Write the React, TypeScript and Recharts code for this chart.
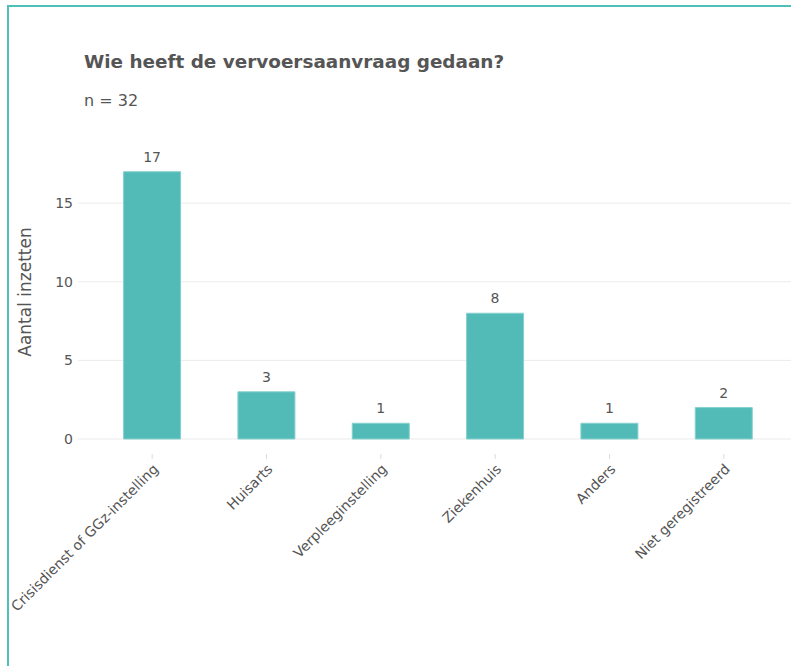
import React from 'react';
import { BarChart, Bar, XAxis, YAxis, CartesianGrid, LabelList } from 'recharts';

const categories = [
  'Crisisdienst of GGz-instelling',
  'Huisarts',
  'Verpleeginstelling',
  'Ziekenhuis',
  'Anders',
  'Niet geregistreerd',
];
const counts = [17, 3, 1, 8, 1, 2];
const yTicks = [0, 5, 10, 15];

const teal = '#52bbb8';
const font = '"DejaVu Sans", Verdana, sans-serif';

const data = categories.map((name, i) => ({ name, value: counts[i] }));

const XTick = (props: any) => {
  const { x, y, payload } = props;
  return (
    <g>
      <line x1={x} x2={x} y1={y + 15} y2={y + 20} stroke="#dddddd" />
      <text
        x={x + 7}
        y={y + 31}
        textAnchor="end"
        transform={`rotate(-45, ${x + 7}, ${y + 31})`}
        fill="#555"
        fontSize={14}
        fontFamily={font}
      >
        {payload.value}
      </text>
    </g>
  );
};

const YTitle = () => (
  <text
    x={25}
    y={292}
    transform="rotate(-90, 25, 292)"
    textAnchor="middle"
    dominantBaseline="central"
    fill="#555"
    fontSize={17}
    fontFamily={font}
  >
    Aantal inzetten
  </text>
);

export default function App() {
  return (
    <div style={{ position: 'absolute', left: 0, top: 0, width: 791, height: 666, overflow: 'hidden', background: '#fff' }}>
      <div
        style={{
          position: 'absolute',
          left: 7,
          top: 5,
          width: 1000,
          height: 1000,
          border: '2px solid #4fbfba',
        }}
      />
      <svg style={{ position: 'absolute', left: 0, top: 0 }} width={791} height={130}>
        <text x={84} y={68} fontSize={18.4} fontWeight="bold" fill="#555" fontFamily={font}>
          Wie heeft de vervoersaanvraag gedaan?
        </text>
        <text x={84} y={106} fontSize={16} fill="#555" fontFamily={font}>
          n = 32
        </text>
      </svg>
      <div style={{ position: 'absolute', left: 0, top: 0 }}>
        <BarChart
          width={800}
          height={666}
          data={data}
          margin={{ top: 156, right: 2, bottom: 0, left: 0 }}
          barCategoryGap="25%"
        >
          <CartesianGrid vertical={false} stroke="#ebebeb" horizontalValues={yTicks} />
          <XAxis
            dataKey="name"
            interval={0}
            height={227}
            axisLine={false}
            tickLine={false}
            tickSize={0}
            tickMargin={0}
            padding={{ left: 17, right: 17 }}
            tick={<XTick />}
          />
          <YAxis
            width={78}
            domain={[0, 18]}
            ticks={yTicks}
            axisLine={false}
            tickLine={false}
            tickSize={0}
            tickMargin={5}
            tick={{ fill: '#555', fontSize: 14, fontFamily: font }}
            label={{ content: <YTitle /> }}
          />
          <Bar dataKey="value" fill={teal} stroke="#86d0cd" strokeWidth={1} isAnimationActive={false}>
            <LabelList dataKey="value" position="top" offset={10} fill="#555" fontSize={14} fontFamily={font} />
          </Bar>
        </BarChart>
      </div>
    </div>
  );
}
